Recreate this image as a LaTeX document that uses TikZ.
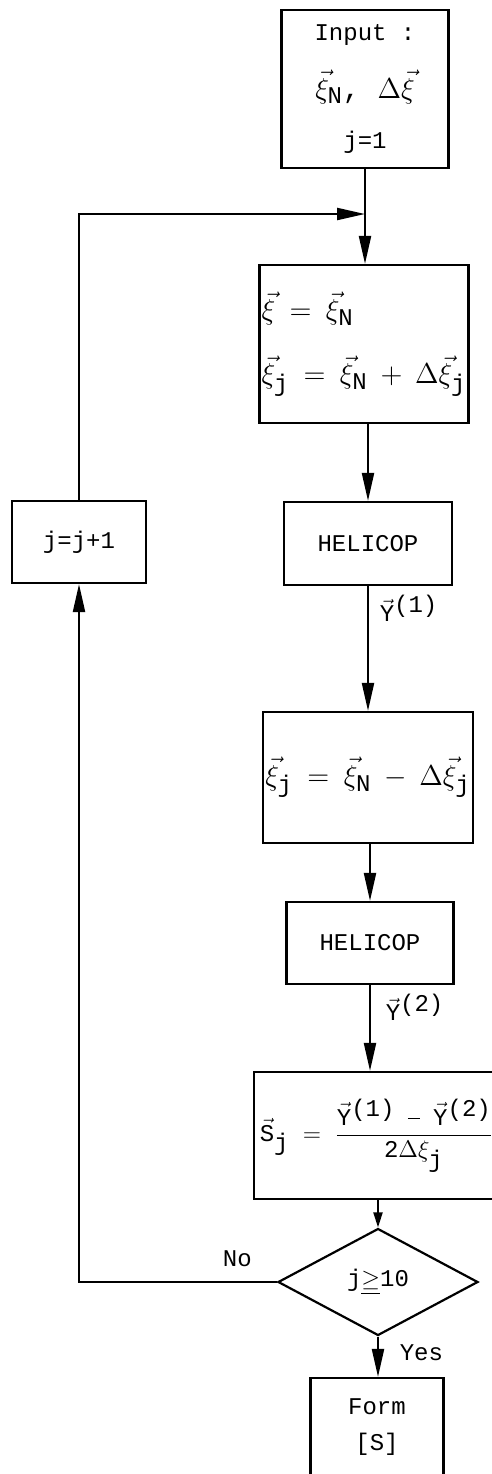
\documentclass[tikz,border=0pt]{standalone}
\usepackage{fontspec}
\setmonofont{Liberation Mono}
\usetikzlibrary{shapes.geometric}
\usetikzlibrary{arrows.meta}
\usepackage{amsmath}
% full-size typewriter subscripts and the Y vectors, as typed
\newcommand{\tsub}[1]{_{\mbox{\fontsize{12}{14}\selectfont #1}}}
\newcommand{\Yvec}[1]{$\vec{\mbox{Y}}$\raisebox{0.7ex}{(#1)}}

\begin{document}
\begin{tikzpicture}[x=0.5pt, y=-0.5pt, font=\ttfamily\fontsize{12}{14}\selectfont,
    blk/.style={draw, line width=1.1pt, inner sep=3pt},
    flow/.style={-{Triangle[length=14pt, width=6pt]}, line width=1.1pt},
    short/.style={-{Triangle[length=7.5pt, width=4.5pt]}, line width=1.1pt}]
            \useasboundingbox (0,0) rectangle (492,1474);
            \clip (0,0) rectangle (492,1474);
            \node[blk, minimum width=83.5pt, minimum height=79pt, align=center] (input) at (365,89) {Input :\\[11pt] \Large$\vec{\xi}\tsub{N}$, $\Delta\vec{\xi}$\\[11pt] j=1};
            \node[blk, inner xsep=1pt, minimum width=104.5pt, minimum height=79pt, align=left] (eqs1) at (364,344) {\Large$\vec{\xi} \:=\: \vec{\xi}\tsub{N}$\\[14pt] \Large$\vec{\xi}\tsub{j} \:=\: \vec{\xi}\tsub{N} \:+\: \Delta\vec{\xi}\tsub{j}$};
            \node[blk, minimum width=84pt, minimum height=41.5pt] (hel1) at (368,543.5) {HELICOP};
            \node[blk, inner xsep=1pt, minimum width=104.5pt, minimum height=65.5pt] (eqs2) at (368,777.5) {\Large$\vec{\xi}\tsub{j} \:=\: \vec{\xi}\tsub{N} \:-\: \Delta\vec{\xi}\tsub{j}$};
            \node[blk, minimum width=83.5pt, minimum height=41pt] (hel2) at (370,943) {HELICOP};
            \node[blk, minimum width=121.5pt, minimum height=63.5pt] (sens) at (376.5,1135.5) {$\vec{\mbox{S}}\tsub{j} \;=\; \dfrac{\mbox{\Yvec{1}} \;\;\rule[0.5ex]{6pt}{0.6pt}\;\; \mbox{\Yvec{2}}}{\mbox{2}\Delta\xi\tsub{j}}$};
            \node[draw, diamond, line width=1.1pt, minimum width=100pt, minimum height=53.5pt, inner sep=0pt] (test) at (378,1282) {j$\underline{\geq}$10};
            \node[blk, minimum width=66.5pt, minimum height=49pt, align=center] (form) at (377,1427) {Form\\[4pt] [S]};
            \node[blk, minimum width=67pt, minimum height=41pt] (incr) at (79,542) {j=j+1};
            \coordinate (join) at (365,214);

            \draw[flow] (input.south) -- (input.south |- eqs1.north);
            \draw[flow] (eqs1.south -| hel1) -- (hel1.north);
            \draw[flow] (hel1.south) -- node[pos=0.18, right=2pt] {\Yvec{1}} (hel1.south |- eqs2.north);
            \draw[flow] (eqs2.south -| hel2) -- (hel2.north);
            \draw[flow] (hel2.south) -- node[pos=0.26, right=4pt] {\Yvec{2}} (hel2.south |- sens.north);
            \draw[short] (sens.south -| test) -- (test.north);
            \draw[flow] (test.south) -- node[pos=0.4, right=7pt] {Yes} (test.south |- form.north);
            \draw[flow] (test.west) -- node[pos=0.2, above=4pt] {No} (test.west -| incr) -- (incr.south);
            \draw[flow] (incr.north) |- (join);
        \end{tikzpicture}
\end{document}
